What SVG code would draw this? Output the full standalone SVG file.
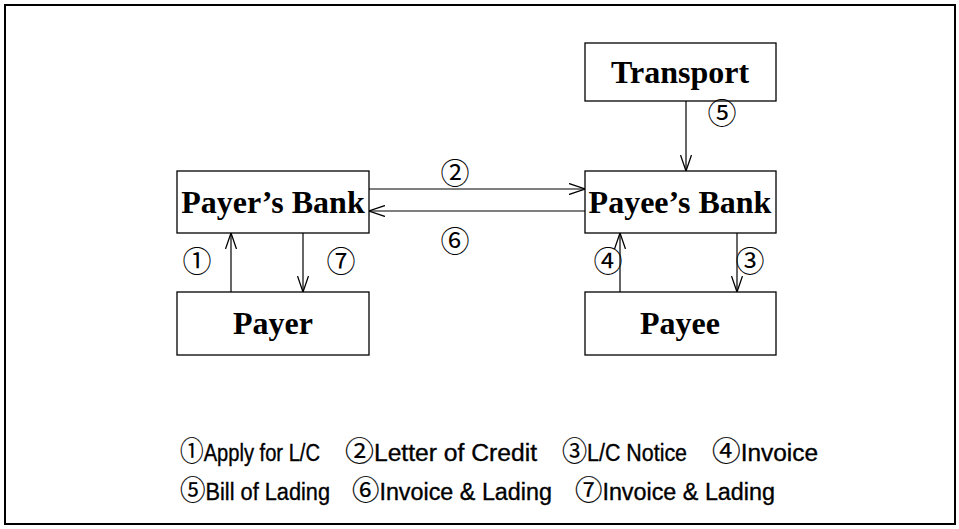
<svg xmlns="http://www.w3.org/2000/svg" width="959" height="529" viewBox="0 0 959 529">
<defs>
<marker id="arr" viewBox="0 0 16 12" refX="16" refY="6" markerWidth="16" markerHeight="12" markerUnits="userSpaceOnUse" orient="auto">
<path d="M0,0.5 L16,6 L0,11.5" fill="none" stroke="#000" stroke-width="1.3"/>
</marker>
<style>
.box{fill:#fff;stroke:#000;stroke-width:1.3}
.lbl{font-family:"Liberation Serif","Times New Roman",serif;font-weight:bold;font-size:32px;text-anchor:middle;fill:#000}
.num{font-family:"Noto Sans CJK JP","Liberation Serif",sans-serif;font-size:29px;text-anchor:middle;fill:#000}
.leg{font-family:"Liberation Sans","Noto Sans CJK JP",Arial,sans-serif;font-size:23px;fill:#000;stroke:#000;stroke-width:0.35}
.c{font-family:"Noto Sans CJK JP",sans-serif;font-size:27px;stroke-width:0.2}
.con{stroke:#000;stroke-width:1.2;fill:none;marker-end:url(#arr)}
</style>
</defs>
<rect x="5" y="5" width="950" height="519" fill="#fff" stroke="#000" stroke-width="2"/>
<g id="transport"><rect class="box" x="585" y="43" width="191" height="58"/><text class="lbl" x="680" y="83">Transport</text></g>
<g id="payers-bank"><rect class="box" x="177" y="171" width="192" height="62"/><text class="lbl" x="273" y="213">Payer’s Bank</text></g>
<g id="payees-bank"><rect class="box" x="585" y="171" width="191" height="62"/><text class="lbl" x="680" y="213">Payee’s Bank</text></g>
<g id="payer"><rect class="box" x="177" y="292" width="192" height="63"/><text class="lbl" x="273" y="334">Payer</text></g>
<g id="payee"><rect class="box" x="585" y="292" width="191" height="63"/><text class="lbl" x="680" y="334">Payee</text></g>
<g id="connectors">
<line class="con" x1="231" y1="292" x2="231" y2="233"/>
<line class="con" x1="303" y1="233" x2="303" y2="292"/>
<line class="con" x1="620" y1="292" x2="620" y2="233"/>
<line class="con" x1="737" y1="233" x2="737" y2="292"/>
<line class="con" x1="686" y1="101" x2="686" y2="171"/>
<line class="con" x1="369" y1="189" x2="585" y2="189"/>
<line class="con" x1="585" y1="211" x2="369" y2="211"/>
</g>
<g id="labels">
<text class="num" x="455" y="184">②</text>
<text class="num" x="455" y="252">⑥</text>
<text class="num" x="197" y="272">①</text>
<text class="num" x="341" y="272">⑦</text>
<text class="num" x="608" y="272">④</text>
<text class="num" x="750" y="272">③</text>
<text class="num" x="722" y="124">⑤</text>
</g>
<g id="legend">
<text class="leg" x="180" y="461" textLength="140" lengthAdjust="spacingAndGlyphs"><tspan class="c">①</tspan>Apply for L/C</text>
<text class="leg" x="345" y="461" textLength="192" lengthAdjust="spacingAndGlyphs"><tspan class="c">②</tspan>Letter of Credit</text>
<text class="leg" x="562" y="461" textLength="125" lengthAdjust="spacingAndGlyphs"><tspan class="c">③</tspan>L/C Notice</text>
<text class="leg" x="712" y="461" textLength="106" lengthAdjust="spacingAndGlyphs"><tspan class="c">④</tspan>Invoice</text>
<text class="leg" x="180" y="500" textLength="150" lengthAdjust="spacingAndGlyphs"><tspan class="c">⑤</tspan>Bill of Lading</text>
<text class="leg" x="352" y="500" textLength="200" lengthAdjust="spacingAndGlyphs"><tspan class="c">⑥</tspan>Invoice &amp; Lading</text>
<text class="leg" x="575" y="500" textLength="200" lengthAdjust="spacingAndGlyphs"><tspan class="c">⑦</tspan>Invoice &amp; Lading</text>
</g>
</svg>
